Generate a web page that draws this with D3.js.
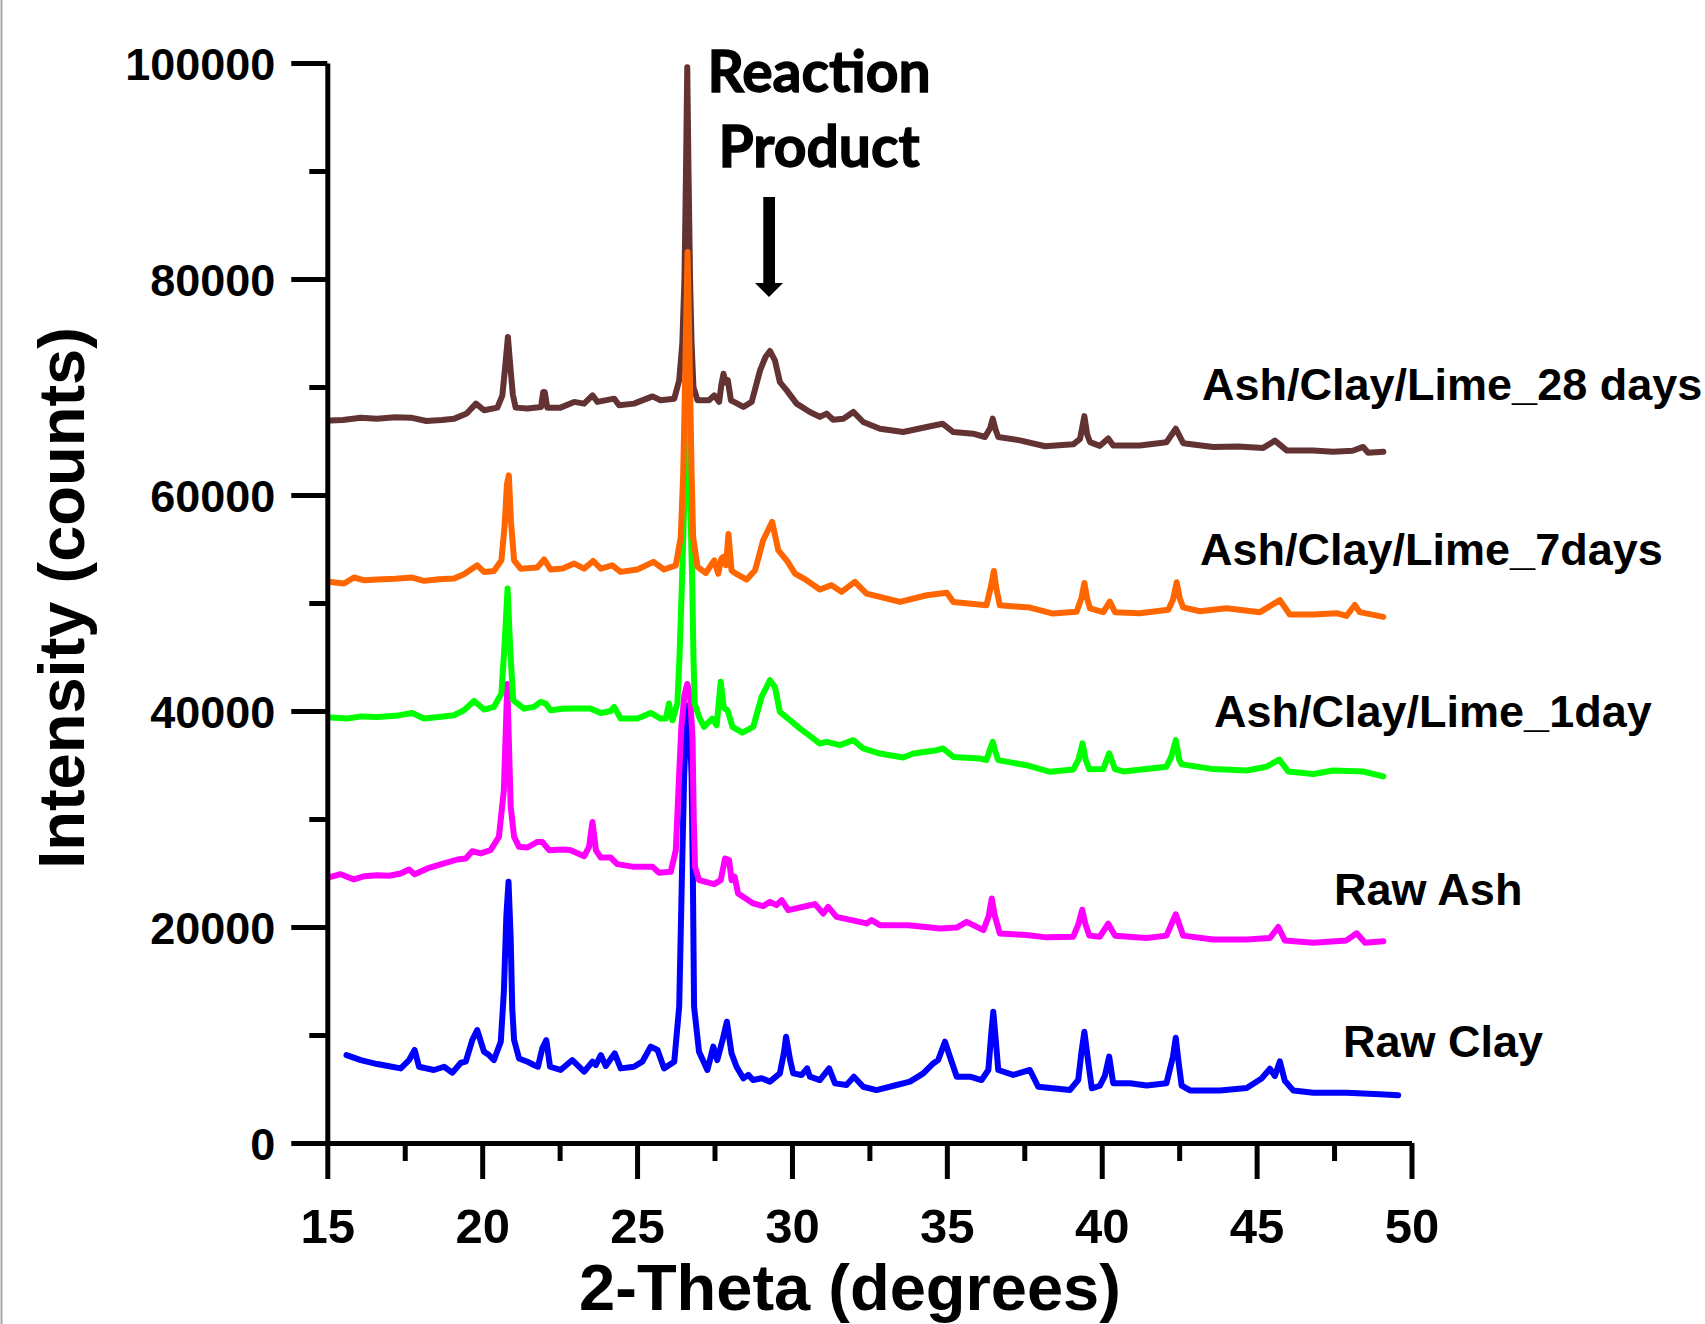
<!DOCTYPE html>
<html><head><meta charset="utf-8">
<script src="https://cdn.jsdelivr.net/npm/d3@7"></script>
<style>body{margin:0;background:#fff;} svg{display:block;}</style>
</head><body>
<svg id="chart" width="1705" height="1324"></svg>
<script>
// ---------- data ----------
const xTicks = [15, 20, 25, 30, 35, 40, 45, 50];
const xMinorTicks = [17.5, 22.5, 27.5, 32.5, 37.5, 42.5, 47.5];
const yTicks = [0, 20000, 40000, 60000, 80000, 100000];
const yMinorTicks = [10000, 30000, 50000, 70000, 90000];
const xTitle = "2-Theta (degrees)";
const yTitle = "Intensity (counts)";
const annotationLines = ["Reaction", "Product"];

const seriesNames = ["Raw Clay", "Raw Ash", "Ash/Clay/Lime_1day", "Ash/Clay/Lime_7days", "Ash/Clay/Lime_28 days"];
const seriesColors = ["#0000ff", "#ff00ff", "#00ff00", "#ff6600", "#633333"];

const rawClay = [[15.62,8140],[16.08,7680],[16.61,7310],[17.0,7100],[17.37,6910],[17.64,7680],[17.82,8610],[17.96,7060],[18.44,6760],[18.77,7060],[19.04,6510],[19.31,7430],[19.47,7530],[19.68,9530],[19.84,10460],[20.06,8450],[20.22,8140],[20.38,7680],[20.6,9380],[20.7,14000],[20.78,21000],[20.85,24190],[20.92,19000],[20.97,12500],[21.03,9530],[21.19,7830],[21.46,7530],[21.67,7220],[21.8,7060],[21.94,8760],[22.07,9530],[22.19,7060],[22.53,6760],[22.91,7680],[23.29,6600],[23.56,7530],[23.67,7220],[23.83,8140],[23.99,7130],[24.28,8300],[24.47,6910],[24.9,7060],[25.17,7530],[25.44,8920],[25.66,8610],[25.87,6910],[26.2,7530],[26.36,12620],[26.45,25000],[26.52,34000],[26.58,38500],[26.64,40500],[26.7,38500],[26.76,34000],[26.8,25000],[26.84,12620],[27.0,8450],[27.27,6760],[27.46,8920],[27.59,7680],[27.76,9530],[27.9,11230],[28.05,8300],[28.21,7060],[28.43,5990],[28.59,6300],[28.75,5830],[29.02,5990],[29.29,5680],[29.61,6450],[29.75,8500],[29.81,9840],[29.94,7680],[30.04,6450],[30.31,6300],[30.49,6910],[30.58,6140],[30.9,5830],[31.2,6910],[31.39,5520],[31.76,5370],[32.0,6140],[32.3,5210],[32.73,4900],[33.38,5370],[33.81,5680],[34.24,6450],[34.56,7370],[34.72,7680],[34.94,9380],[35.1,7990],[35.32,6140],[35.75,6140],[36.12,5830],[36.34,6760],[36.43,10000],[36.5,12150],[36.58,9500],[36.66,6760],[37.14,6300],[37.68,6760],[37.95,5210],[38.43,5060],[38.97,4900],[39.24,5830],[39.35,8500],[39.44,10300],[39.52,8500],[39.57,7370],[39.68,5060],[39.94,5300],[40.1,6210],[40.24,8000],[40.37,5540],[40.91,5540],[41.45,5320],[42.09,5540],[42.3,8000],[42.39,9740],[42.48,7500],[42.58,5320],[42.85,4870],[43.82,4870],[44.68,5090],[45.16,5980],[45.43,6870],[45.59,6210],[45.75,7550],[45.91,5760],[46.18,4870],[46.83,4650],[47.9,4650],[48.98,4520],[49.57,4430]];

const rawAsh = [[15.11,24650],[15.43,24890],[15.86,24400],[16.2,24700],[16.61,24800],[17.0,24750],[17.37,24950],[17.64,25330],[17.82,24890],[18.23,25420],[18.77,25880],[19.2,26250],[19.47,26350],[19.68,27020],[19.95,26810],[20.27,27110],[20.54,28350],[20.7,32670],[20.81,42500],[20.92,31130],[21.03,28350],[21.19,27420],[21.46,27360],[21.78,27880],[21.94,27880],[22.16,27110],[22.64,27170],[22.86,27110],[23.29,26550],[23.45,27420],[23.56,29730],[23.67,27110],[23.83,26430],[24.15,26430],[24.36,25820],[24.9,25570],[25.5,25570],[25.71,25020],[26.09,25120],[26.25,27110],[26.36,34210],[26.43,38500],[26.53,41500],[26.62,42500],[26.71,41500],[26.79,37500],[26.83,30000],[26.87,25570],[27.0,24340],[27.49,23970],[27.7,24340],[27.84,26340],[27.97,26190],[28.05,24340],[28.15,24650],[28.26,23110],[28.51,22640],[28.75,22180],[29.07,21930],[29.29,22330],[29.5,22030],[29.67,22490],[29.88,21560],[30.37,21870],[30.74,22120],[31.01,21250],[31.17,21870],[31.44,20940],[32.41,20330],[32.57,20640],[32.84,20170],[33.76,20170],[34.78,19860],[35.32,19950],[35.64,20480],[36.18,19710],[36.35,21000],[36.45,22640],[36.55,21000],[36.71,19400],[37.57,19250],[38.22,19040],[39.08,19100],[39.25,20300],[39.37,21600],[39.47,20300],[39.6,19200],[39.94,19100],[40.21,20310],[40.43,19200],[41.45,18980],[42.09,19200],[42.39,21180],[42.63,19200],[43.6,18850],[44.68,18850],[45.43,18980],[45.7,20000],[45.91,18760],[46.83,18540],[47.9,18760],[48.23,19420],[48.5,18540],[49.09,18670]];

const lime1day = [[15.11,39400],[15.65,39300],[16.1,39500],[16.61,39450],[17.2,39550],[17.74,39820],[18.12,39300],[18.6,39450],[19.09,39610],[19.41,40070],[19.74,40930],[20.06,40130],[20.38,40380],[20.62,41620],[20.72,46000],[20.82,51340],[20.9,46000],[21.0,41000],[21.35,40220],[21.67,40380],[21.89,40840],[22.05,40690],[22.21,40070],[22.6,40200],[22.97,40220],[23.5,40220],[23.83,39820],[24.15,40000],[24.26,40380],[24.47,39300],[25.01,39300],[25.44,39820],[25.76,39300],[25.93,39300],[26.03,40690],[26.14,39140],[26.3,40690],[26.37,45000],[26.45,52000],[26.53,60000],[26.62,68000],[26.71,60000],[26.78,52000],[26.82,45000],[26.86,40690],[27.0,39450],[27.16,38530],[27.43,39300],[27.57,38680],[27.7,42700],[27.8,40300],[27.92,40070],[28.08,38530],[28.4,38000],[28.75,38530],[29.02,41310],[29.29,42850],[29.45,42230],[29.61,39920],[29.94,39140],[30.26,38370],[30.58,37700],[30.9,36990],[31.12,37140],[31.55,36840],[31.98,37300],[32.3,36530],[32.84,36060],[33.59,35690],[33.92,36060],[34.67,36370],[34.88,36530],[35.21,35750],[36.07,35600],[36.28,35450],[36.4,36500],[36.48,37140],[36.57,36200],[36.66,35450],[37.57,34980],[38.33,34370],[39.08,34580],[39.25,35500],[39.38,37000],[39.48,35500],[39.6,34600],[40.05,34620],[40.24,36090],[40.43,34620],[40.7,34400],[42.09,34840],[42.25,35800],[42.39,37300],[42.5,35500],[42.58,35060],[43.6,34620],[44.68,34490],[45.32,34840],[45.73,35510],[46.02,34400],[46.83,34170],[47.47,34490],[48.44,34400],[49.09,33950]];

const lime7days = [[15.11,51950],[15.54,51800],[15.86,52360],[16.2,52100],[16.61,52170],[17.2,52250],[17.74,52360],[18.12,52050],[18.6,52200],[19.09,52260],[19.41,52660],[19.84,53490],[20.06,52880],[20.38,52970],[20.62,53950],[20.72,57000],[20.8,61000],[20.86,61820],[20.93,57500],[21.03,53950],[21.24,53180],[21.78,53290],[22.0,54030],[22.21,53100],[22.6,53200],[22.97,53650],[23.29,53180],[23.58,53890],[23.83,53180],[24.2,53490],[24.47,52880],[25.01,53100],[25.53,53810],[25.87,53100],[26.25,53490],[26.41,56110],[26.49,62000],[26.56,72000],[26.63,82500],[26.7,72000],[26.76,62000],[26.81,56110],[26.95,53340],[27.22,52780],[27.49,53950],[27.62,52720],[27.72,54100],[27.78,54260],[27.87,53500],[27.95,56380],[28.05,53000],[28.19,52720],[28.54,52170],[28.81,53030],[29.07,55810],[29.36,57510],[29.56,54880],[29.83,53950],[30.1,52720],[30.47,52110],[30.9,51250],[31.28,51650],[31.6,51030],[32.03,51950],[32.41,50870],[33.49,50100],[34.35,50720],[35.0,50940],[35.21,50100],[36.28,49790],[36.42,51500],[36.52,52970],[36.6,51300],[36.71,49790],[37.68,49580],[38.43,49020],[39.19,49180],[39.35,50500],[39.44,51850],[39.53,50400],[39.62,49500],[40.05,49150],[40.26,50130],[40.43,49150],[41.23,49060],[42.15,49370],[42.3,50300],[42.42,51920],[42.52,50400],[42.63,49600],[43.17,49240],[44.03,49510],[45.11,49150],[45.75,50270],[46.07,48930],[46.83,48930],[47.58,49060],[47.9,48800],[48.17,49820],[48.33,49150],[49.09,48710]];

const lime28days = [[15.1,66900],[15.5,66950],[16.08,67160],[16.6,67050],[17.2,67200],[17.7,67160],[18.2,66850],[18.7,66950],[19.1,67070],[19.5,67540],[19.8,68460],[20.06,67850],[20.49,68090],[20.65,69200],[20.73,71500],[20.83,74620],[20.92,71500],[20.99,69300],[21.08,68090],[21.46,68000],[21.9,68150],[21.97,69540],[22.02,69540],[22.1,68090],[22.53,68090],[22.97,68620],[23.29,68460],[23.56,69230],[23.72,68620],[24.26,68920],[24.42,68310],[24.9,68460],[25.5,69130],[25.76,68770],[26.2,68920],[26.36,70630],[26.46,74000],[26.53,80000],[26.58,90000],[26.62,99600],[26.66,90000],[26.71,80000],[26.76,74000],[26.82,70000],[26.95,68770],[27.32,68770],[27.49,69230],[27.65,68620],[27.72,70200],[27.79,71230],[27.86,70400],[27.93,70630],[28.03,68770],[28.19,68520],[28.43,68150],[28.7,68620],[28.97,71540],[29.15,72800],[29.29,73330],[29.45,72470],[29.61,70460],[29.83,69690],[30.15,68460],[30.58,67690],[30.9,67230],[31.12,67540],[31.33,66970],[31.66,67070],[31.98,67690],[32.3,66760],[32.84,66140],[33.59,65830],[34.35,66300],[34.86,66600],[35.21,65830],[35.85,65680],[36.23,65370],[36.4,66200],[36.48,67070],[36.58,66000],[36.66,65370],[37.36,65060],[38.17,64510],[39.08,64690],[39.3,65200],[39.44,67300],[39.53,65600],[39.62,64900],[39.94,64550],[40.21,65230],[40.37,64580],[41.23,64580],[42.09,64890],[42.39,66140],[42.63,64800],[43.6,64450],[44.4,64500],[45.21,64360],[45.59,65030],[45.97,64130],[46.83,64130],[47.47,64000],[48.1,64100],[48.44,64450],[48.6,63910],[49.09,64000]];

const seriesData = [rawClay, rawAsh, lime1day, lime7days, lime28days];

// ---------- layout ----------
const svg = d3.select("#chart");
const W = 1705, H = 1324;
const x = d3.scaleLinear().domain([15, 50]).range([327.3, 1411.5]);
const y = d3.scaleLinear().domain([0, 100000]).range([1143, 63]);
const FONT = "'Liberation Sans', Arial, Helvetica, sans-serif";

// thin grey border at the left edge
svg.append("line").attr("x1", 1.5).attr("x2", 1.5).attr("y1", 0).attr("y2", H)
  .attr("stroke", "#a8a8a8").attr("stroke-width", 2);

// curves (draw order chosen so overlaps look like the reference)
const drawOrder = [0, 1, 2, 4, 3];
const line = d3.line().x(d => x(d[0])).y(d => y(d[1])).curve(d3.curveLinear);
const gCurves = svg.append("g");
drawOrder.forEach(i => {
  gCurves.append("path").datum(seriesData[i])
    .attr("d", line).attr("fill", "none")
    .attr("stroke", seriesColors[i]).attr("stroke-width", 6)
    .attr("stroke-linejoin", "round").attr("stroke-linecap", "round");
});

// axes
const majorLen = 36, minorLen = 18;
const xAxis = d3.axisBottom(x).tickValues(xTicks).tickSize(majorLen).tickSizeOuter(0)
  .tickPadding(29).tickFormat(d3.format("d"));
const yAxis = d3.axisLeft(y).tickValues(yTicks).tickSize(majorLen).tickSizeOuter(0)
  .tickPadding(16).tickFormat(d3.format("d"));

const gx = svg.append("g").attr("transform", `translate(0,${y(0)})`).call(xAxis);
const gy = svg.append("g").attr("transform", `translate(${x(15)},0)`).call(yAxis);
const gxm = svg.append("g").attr("transform", `translate(0,${y(0)})`)
  .call(d3.axisBottom(x).tickValues(xMinorTicks).tickSize(minorLen).tickSizeOuter(0).tickFormat(""));
const gym = svg.append("g").attr("transform", `translate(${x(15)},0)`)
  .call(d3.axisLeft(y).tickValues(yMinorTicks).tickSize(minorLen).tickSizeOuter(0).tickFormat(""));

[gx, gy, gxm, gym].forEach(g => {
  g.select(".domain").attr("stroke", "#000").attr("stroke-width", 5);
  g.selectAll(".tick line").attr("stroke", "#000").attr("stroke-width", 5);
});
gxm.select(".domain").remove();
gym.select(".domain").remove();

gx.selectAll(".tick text").attr("font-family", FONT).attr("font-weight", "bold")
  .attr("font-size", 49).attr("fill", "#000");
gy.selectAll(".tick text").attr("font-family", FONT).attr("font-weight", "bold")
  .attr("font-size", 45).attr("fill", "#000").attr("dy", "0.37em");

// axis titles
svg.append("text").attr("x", 850).attr("y", 1310).attr("text-anchor", "middle")
  .attr("font-family", FONT).attr("font-weight", "bold").attr("font-size", 65)
  .text(xTitle);
svg.append("text").attr("transform", "translate(84,598) rotate(-90)").attr("text-anchor", "middle")
  .attr("font-family", FONT).attr("font-weight", "bold").attr("font-size", 65)
  .text(yTitle);

// series labels
const labelPos = [[1343, 1057], [1334, 905], [1214, 727], [1200, 565], [1202, 400]];
seriesNames.forEach((n, i) => {
  svg.append("text").attr("x", labelPos[i][0]).attr("y", labelPos[i][1])
    .attr("font-family", FONT).attr("font-weight", "bold").attr("font-size", 45)
    .attr("fill", "#000").text(n);
});

// annotation
const AFONT = "Lato, 'Open Sans', sans-serif";
annotationLines.forEach((t, i) => {
  svg.append("text").attr("x", 819).attr("y", i === 0 ? 92 : 167).attr("text-anchor", "middle")
    .attr("font-family", AFONT).attr("font-weight", "bold").attr("font-size", 57)
    .attr("fill", "#000").attr("stroke", "#000").attr("stroke-width", 1.3)
    .text(t);
});
// arrow
svg.append("rect").attr("x", 763.3).attr("y", 197).attr("width", 11.7).attr("height", 88).attr("fill", "#000");
svg.append("path").attr("d", "M755,283 L783,283 L769,297 Z").attr("fill", "#000");
</script>
</body></html>
